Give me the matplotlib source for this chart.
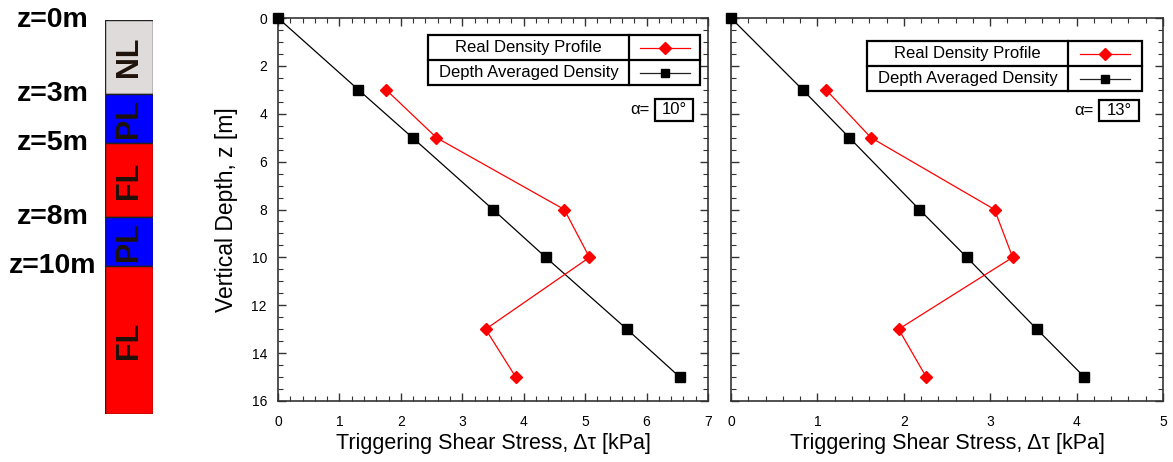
import numpy as np
import matplotlib
matplotlib.use("Agg")
import matplotlib.pyplot as plt
from matplotlib.patches import Rectangle
from matplotlib.lines import Line2D
from matplotlib.ticker import MultipleLocator

plt.rcParams['font.family'] = ['Liberation Sans', 'DejaVu Sans']

# soil column
layer_tops = [0, 3, 5, 8, 10]
layer_bottom = 16
layer_names = ["NL", "PL", "FL", "PL", "FL"]
layer_colors = ["#e0dbdb", "#0000ff", "#ff0000", "#0000ff", "#ff0000"]
depth_labels = ["z=0m", "z=3m", "z=5m", "z=8m", "z=10m"]

# depth of the points
z_real = [3, 5, 8, 10, 13, 15]
z_avg = [0, 3, 5, 8, 10, 13, 15]

# alpha = 10 deg
tau_real_10 = [1.76, 2.58, 4.66, 5.07, 3.38, 3.87]
tau_avg_10 = [0, 1.31, 2.19, 3.50, 4.36, 5.68, 6.54]
# alpha = 13 deg
tau_real_13 = [1.10, 1.62, 3.05, 3.26, 1.94, 2.26]
tau_avg_13 = [0, 0.83, 1.37, 2.18, 2.73, 3.54, 4.09]

panels = [
    (tau_real_10, tau_avg_10, 7, "10°"),
    (tau_real_13, tau_avg_13, 5, "13°"),
]

W, H = 1173, 462
fig = plt.figure(figsize=(W / 100, H / 100), dpi=100)


def fx(x):
    return x / W


def fy(y):
    return 1 - y / H


def ax_rect(x0, y0, x1, y1):
    return [fx(x0), fy(y1), fx(x1) - fx(x0), fy(y0) - fy(y1)]


# ---- soil column ----
cax = fig.add_axes(ax_rect(105, 20, 152.5, 414))
bounds = layer_tops + [layer_bottom]
for i, name in enumerate(layer_names):
    top, bot = bounds[i], bounds[i + 1]
    cax.bar(0.5, bot - top, bottom=top, width=1, color=layer_colors[i],
            edgecolor="#222222", linewidth=1.0)
    cax.text(0.5, (top + bot) / 2, name, rotation=90, ha="center", va="center",
             fontsize=22, fontweight="bold", color="#1e120a")
for t, lab in zip(layer_tops, depth_labels):
    cax.text(-1.1, t, lab, ha="center", va="center", fontsize=20.5,
             fontweight="bold", transform=cax.get_yaxis_transform(), clip_on=False)
cax.set_xlim(0, 1)
cax.set_ylim(layer_bottom, 0)
cax.axis("off")

# ---- stress profiles ----
legend_boxes = [(428, 35, 700, 85, 629), (867, 41, 1142, 91, 1068)]
alpha_boxes = [(655, 99, 693, 121), (1099, 100, 1139, 121)]
axes_px = [(278, 18, 708, 401), (731, 18, 1163, 401)]

for k, (real, avg, xmax, alpha_txt) in enumerate(panels):
    ax = fig.add_axes(ax_rect(*axes_px[k]))
    ax.plot(avg, z_avg, color="black", lw=0.9, marker="s", ms=7,
            clip_on=False, zorder=3)
    ax.plot(real, z_real, color="red", lw=0.9, marker="D", ms=6.5,
            clip_on=False, zorder=3)
    ax.set_xlim(0, xmax)
    ax.set_ylim(16, 0)
    ax.xaxis.set_major_locator(MultipleLocator(1))
    ax.xaxis.set_minor_locator(MultipleLocator(0.2))
    ax.yaxis.set_major_locator(MultipleLocator(2))
    ax.yaxis.set_minor_locator(MultipleLocator(0.5))
    ax.tick_params(which="both", direction="in", top=True, right=True,
                   color="#333333", labelsize=10)
    ax.tick_params(which="major", length=6, width=1)
    ax.tick_params(which="minor", length=3.5, width=0.8)
    ax.tick_params(axis="x", pad=10)
    ax.tick_params(axis="y", pad=8)
    for sp in ax.spines.values():
        sp.set_color("#333333")
        sp.set_linewidth(1.2)
    ax.set_xlabel("Triggering Shear Stress, Δτ [kPa]", fontsize=15.5, labelpad=3)
    if k == 0:
        ax.set_ylabel("Vertical Depth, z [m]", fontsize=16.5, labelpad=10)
    else:
        ax.set_yticklabels([])

    # table-style legend
    x0, y0, x1, y1, xd = legend_boxes[k]
    ym = (y0 + y1) / 2
    fig.add_artist(Rectangle((fx(x0), fy(y1)), fx(x1) - fx(x0), fy(y0) - fy(y1),
                             transform=fig.transFigure, fill=True, fc="white",
                             ec="black", lw=1.6, zorder=5))
    fig.add_artist(Line2D([fx(xd), fx(xd)], [fy(y0), fy(y1)], transform=fig.transFigure,
                          color="black", lw=1.6, zorder=6))
    fig.add_artist(Line2D([fx(x0), fx(x1)], [fy(ym), fy(ym)], transform=fig.transFigure,
                          color="black", lw=1.6, zorder=6))
    rows = [("Real Density Profile", "red", "D", 6), ("Depth Averaged Density", "#222222", "s", 6)]
    for r, (label, col, mk, ms) in enumerate(rows):
        yc = (y0 + ym) / 2 if r == 0 else (ym + y1) / 2
        fig.text(fx((x0 + xd) / 2), fy(yc), label, ha="center", va="center",
                 fontsize=12, zorder=7)
        xc = (xd + x1) / 2
        fig.add_artist(Line2D([fx(xc - 25), fx(xc + 25)], [fy(yc), fy(yc)],
                              transform=fig.transFigure, color=col, lw=0.9, zorder=7))
        fig.add_artist(Line2D([fx(xc)], [fy(yc)], transform=fig.transFigure,
                              color="black" if mk == "s" else "red", marker=mk,
                              ms=ms, lw=0, zorder=8))

    # alpha annotation
    a0, b0, a1, b1 = alpha_boxes[k]
    fig.add_artist(Rectangle((fx(a0), fy(b1)), fx(a1) - fx(a0), fy(b0) - fy(b1),
                             transform=fig.transFigure, fill=True, fc="white",
                             ec="black", lw=1.6, zorder=5))
    fig.text(fx((a0 + a1) / 2), fy((b0 + b1) / 2), alpha_txt, ha="center",
             va="center", fontsize=12, zorder=7)
    fig.text(fx(a0 - 5), fy((b0 + b1) / 2), "α=", ha="right", va="center",
             fontsize=12, zorder=7)

fig.savefig("out.png", dpi=100)
